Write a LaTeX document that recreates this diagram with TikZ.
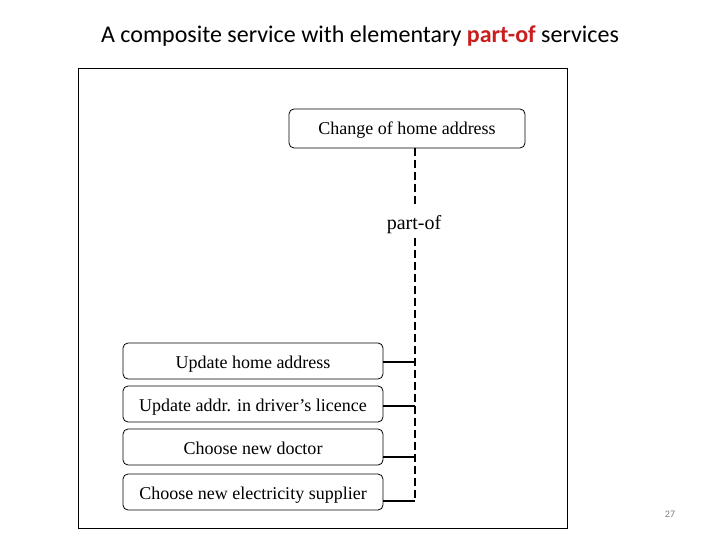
\documentclass[tikz,border=0pt]{standalone}
\usepackage{fontspec}
\setmainfont{Liberation Serif}
\newfontfamily\titlefont{Carlito}
\begin{document}
\begin{tikzpicture}[x=1pt,y=-1pt,
  svc/.style={draw, line width=0.8pt, rounded corners=5pt, inner sep=0pt, text height=14pt, text depth=0pt, font=\fontsize{18}{20}\selectfont},
  dashline/.style={line width=1.8pt, dash pattern=on 8pt off 4pt},
  link/.style={line width=2.6pt}]
\useasboundingbox (0,0) rectangle (720,540);
\node[font=\titlefont\fontsize{24}{28}\selectfont] (title) at (360,36.5) {A composite service with elementary \textcolor[RGB]{200,30,30}{\textbf{part-of}} services};
\draw[line width=0.9pt] (78,68) rectangle (567,528);
\node[svc, text height=12pt, minimum width=236pt, minimum height=39pt] (top) at (407,128.5) {Change of home address};
\node[font=\fontsize{20}{22}\selectfont] (pof) at (414,225) {part-of};
\node[svc, minimum width=260pt, minimum height=36pt] (b1) at (253,361) {Update home address};
\node[svc, minimum width=260pt, minimum height=36pt] (b2) at (253,404) {Update addr. in driver’s licence};
\node[svc, minimum width=260pt, minimum height=36pt] (b3) at (253,447) {Choose new doctor};
\node[svc, minimum width=260pt, minimum height=36pt] (b4) at (253,492) {Choose new electricity supplier};
\coordinate (c1) at (415,362);
\coordinate (c2) at (415,406);
\coordinate (c3) at (415,457);
\coordinate (c4) at (415,501);
\draw[dashline] (415,148) -- (415,206);
\draw[dashline] (415,238) -- (c4);
\draw[link] (b1.east |- c1) -- (c1);
\draw[link] (b2.east |- c2) -- (c2);
\draw[link] (b3.east |- c3) -- (c3);
\draw[link] (b4.east |- c4) -- (c4);
\node[font=\titlefont\fontsize{10}{12}\selectfont, text=gray] (num) at (670,514) {27};
\end{tikzpicture}
\end{document}
